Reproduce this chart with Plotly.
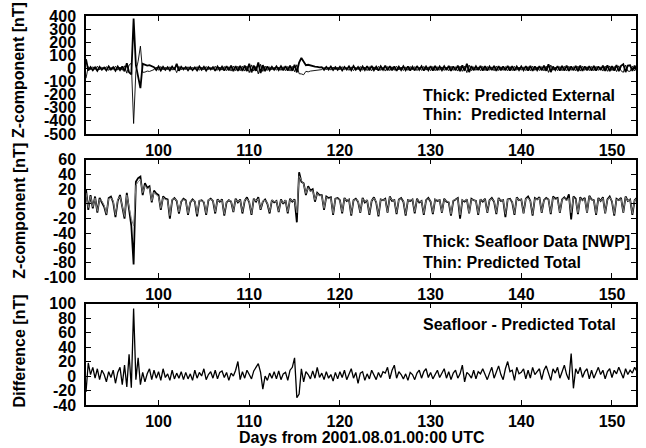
import plotly.graph_objects as go

# ---------------- data (6-hour sampling) ----------------
DAY0 = 92.0
STEP = 0.25

# Panel 1: predicted external (thick) and internal (thin) Z [nT]
EXTERNAL = [
    70, -15, 10, -14,   8, -18, 12, -10,   6, -15, 16, -8,   10, -18, 14, -12,
    15, -22, 40, -30,   -45, 380, 25, -60,   -150, 35, 30, 22,   25, 15, 10, -12,
    15, -16, 12, -10,   10, -14, 14, -10,   35, -18, 12, -8,   10, -14, 10, -12,
    8, -15, 15, -10,   12, -16, 10, -8,   10, -18, 15, -12,   14, -16, 18, -14,
    22, -20, 18, -18,   20, -18, 22, -20,   35, -30, 22, -18,   45, -35, 25, -20,
    16, -14, 12, -10,   15, -12, 16, -14,   18, -16, 22, -18,   28, -30, 45, 80,
    55, 25, 28, 22,   20, 14, 12, 8,   10, -10, 12, -9,   14, -12, 10, -11,
    12, -15, 11, -8,   16, -13, 18, -10,   11, -16, 15, -12,   18, -14, 20, -13,
    13, -17, 16, -10,   22, -15, 18, -14,   15, -18, 13, -12,   17, -13, 16, -16,
    13, -15, 18, -10,   16, -17, 14, -13,   18, -16, 20, -14,   15, -13, 17, -12,
    19, -18, 16, -14,   22, -20, 24, -18,   35, -28, 18, -14,   16, -13, 20, -17,
    18, -16, 15, -13,   20, -18, 17, -14,   16, -15, 19, -16,   18, -17, 15, -12,
    15, -13, 18, -16,   20, -18, 16, -13,   17, -15, 21, -18,   32, -28, 15, -12,
    18, -16, 20, -17,   21, -18, 16, -15,   19, -20, 22, -18,   16, -15, 18, -16,
    20, -17, 16, -13,   22, -19, 24, -20,   18, -16, 26, -21,   20, 32, -28, 22,
    24, -18, 21, -16,
]
INTERNAL = [
    -75, 14, -9, 13,   -7, 17, -11, 9,   -5, 14, -15, 7,   -9, 17, -13, 11,
    -14, 20, -36, 26,   40, -420, -22, 55,   170, -30, -28, -20,   -23, -14, -9, 11,
    -14, 15, -11, 9,   -9, 13, -13, 9,   -32, 16, -11, 7,   -9, 13, -9, 11,
    -7, 14, -14, 9,   -11, 15, -9, 7,   -9, 17, -14, 11,   -13, 15, -17, 13,
    -20, 18, -17, 17,   -18, 17, -20, 18,   -32, 27, -20, 16,   -42, 32, -23, 18,
    -15, 13, -11, 9,   -14, 11, -15, 13,   -17, 15, -20, 16,   -25, 28, -40, -42,
    -48, -22, -26, -20,   -18, -13, -11, -7,   -9, 9, -11, 8,   -13, 11, -9, 10,
    -11, 14, -10, 7,   -15, 12, -17, 9,   -10, 15, -14, 11,   -17, 13, -18, 12,
    -12, 16, -15, 9,   -20, 14, -17, 13,   -14, 17, -12, 11,   -16, 12, -15, 15,
    -12, 14, -17, 9,   -15, 16, -13, 12,   -17, 15, -18, 13,   -14, 12, -16, 11,
    -18, 17, -15, 13,   -20, 18, -22, 17,   -32, 26, -17, 13,   -15, 12, -18, 16,
    -17, 15, -14, 12,   -18, 17, -16, 13,   -15, 14, -18, 15,   -17, 16, -14, 11,
    -14, 12, -17, 15,   -18, 17, -15, 12,   -16, 14, -19, 17,   -30, 26, -14, 11,
    -17, 15, -18, 16,   -19, 17, -15, 14,   -18, 18, -20, 17,   -15, 14, -17, 15,
    -18, 16, -15, 12,   -20, 18, -22, 19,   -17, 15, -24, 20,   -18, -30, 26, -20,
    -22, 17, -19, 15,
]

# Panel 2: seafloor data (thick) and predicted total (thin) Z [nT]
SEAFLOOR = [
    20, -8, 12, -6,   10, -12, 8, 2,   -4, -15, 8, 10,   2, -18, 4, 12,
    -6, -20, 15, -10,   -30, -82, 30, 35,   37, 12, 28, 22,   24, 2, 18, 14,
    12, -8, 10, 7,   6, -20, 5, 8,   4, -13, 3, 7,   5, -15, 2, 6,
    3, -17, 4, 5,   2, -15, 5, 7,   4, -13, 6, 3,   6, -16, 2, 5,
    3, -11, 7, 2,   6, -13, 4, 9,   2, -15, 7, 3,   9, -8, 3, 6,
    0, -13, 5, 2,   4, -11, 6, 0,   5, -13, 7, 3,   6, -25, 43, 30,
    28, 12, 24, 18,   20, 3, 15, 12,   12, -8, 10, 8,   9, -15, 7, 8,
    5, -13, 8, 4,   6, -16, 5, 7,   3, -12, 8, 2,   5, -15, 4, 9,
    2, -17, 6, 5,   7, -12, 10, 4,   5, -14, 6, 8,   3, -16, 5, 4,
    6, -13, 7, 2,   4, -15, 5, 8,   3, -14, 6, 4,   5, -12, 7, 3,
    2, -16, 4, 6,   8, -20, 5, 3,   6, -13, 7, 5,   4, -15, 6, 3,
    7, -12, 5, 8,   3, -14, 8, 4,   5, -18, 6, 7,   2, -15, 9, 5,
    6, -13, 7, 10,   4, -16, 8, 6,   9, -12, 5, 8,   6, -14, 10, 7,
    8, -12, 6, 9,   5, 13, -21, 10,   7, -14, 9, 5,   8, -12, 11, 6,
    5, -15, 8, 4,   9, -13, 6, 10,   3, -16, 7, 5,   8, -12, 10, 4,
    6, -15, 5, 8,
]
PREDICTED = [
    15, -5, 10, -4,   8, -10, 6, 4,   -2, -13, 7, 8,   4, -15, 6, 10,
    -3, -17, 12, -6,   -20, -30, 25, 30,   33, 15, 25, 20,   22, 4, 16, 12,
    10, -6, 9, 6,   5, -16, 6, 7,   5, -11, 4, 6,   4, -13, 3, 5,
    4, -14, 5, 4,   3, -13, 6, 6,   5, -11, 5, 4,   5, -14, 3, 5,
    4, -10, 6, 3,   5, -11, 5, 7,   3, -13, 6, 4,   7, -7, 4, 5,
    1, -11, 5, 3,   4, -10, 5, 1,   5, -11, 6, 4,   5, -12, 38, 32,
    27, 14, 22, 17,   18, 5, 14, 11,   11, -6, 9, 7,   8, -13, 7, 7,
    5, -11, 7, 5,   6, -14, 5, 6,   4, -11, 7, 3,   5, -13, 5, 8,
    3, -15, 6, 5,   6, -11, 9, 5,   5, -12, 6, 7,   4, -14, 5, 5,
    6, -11, 6, 3,   4, -13, 5, 7,   4, -12, 6, 5,   5, -11, 6, 4,
    3, -14, 5, 6,   7, -15, 5, 4,   6, -12, 6, 5,   4, -13, 6, 4,
    6, -11, 5, 7,   4, -12, 7, 5,   5, -14, 6, 6,   3, -13, 8, 5,
    6, -12, 7, 8,   4, -14, 7, 6,   8, -11, 5, 7,   6, -12, 9, 6,
    7, -11, 6, 8,   5, 8, -12, 9,   6, -12, 8, 5,   7, -11, 10, 6,
    5, -13, 7, 4,   8, -12, 6, 9,   4, -14, 6, 5,   7, -11, 9, 4,
    6, -13, 5, 7,
]

# Panel 3: seafloor - predicted total [nT]
DIFFERENCE = [
    -22, 18, 2, 12,   -3, 10, -5, 8,   2, -8, 6, -2,   8, -10, 5, 12,
    -12, 15, -15, 30,   -16, 93, -5, 25,   -12, 5, -8, 3,   10, -5, 8, -3,
    6, -6, 10, -2,   3, -6, 8, -4,   4, -3, 6, -5,   5, -4, 3, -6,
    8, -3, 5, 0,   10, -5, 2, 6,   -3, 8, -4, 5,   7, -2, 5, -6,
    4, 0, 8, 20,   -5, 6, -3, 8,   2, -4, 7, 12,   17, 5, -18, 0,
    -6, 4, -3, 6,   -4, 7, -5, 3,   5, -6, 8, 12,   25, -30, -25, 10,
    -8, 6, 2, -4,   7, -3, 12, -2,   4, -5, 6, -3,   2, -7, 5, -4,
    6, -2, 8, -5,   3, 10, -3, 5,   -10, 4, 6, -6,   3, -4, 8, 2,
    -5, 5, -2, 6,   4, 12, -4, 8,   15, -3, 6, 2,   -4, 3, -6, 5,
    2, -5, 4, 8,   -3, 6, 10, -2,   5, -4, 3, 8,   -2, 5, 10, -3,
    6, -5, 4, 8,   -3, 3, 15, -8,   5, 2, -3, 8,   -4, 6, 3, 10,
    2, -5, 4, 12,   -3, 6, 14, 2,   -5, 10, 20, 6,   8, -6, 12, 3,
    5, 10, -4, 8,   -3, 12, 2, 6,   10, -5, 8, 14,   3, -6, 10, 4,
    12, -3, 6, 15,   2, -5, 31, -17,   10, 3, 12, -2,   6, 10, -4, 8,
    -3, 5, 12, 2,   8, -4, 6, 10,   -2, 8, 3, 12,   5, -3, 10, 2,
    8, 4, 12, 6,
]

X_RANGE = [92.0, 152.65]
X_TICKS = [100, 110, 120, 130, 140, 150]
X_TICK_LABELS = ["100", "110", "120", "130", "140", "150"]

Y1_TICKS = [-500, -400, -300, -200, -100, 0, 100, 200, 300, 400]
Y1_TICK_LABELS = ["-500", "-400", "-300", "-200", "-100", "0", "100", "200", "300", "400"]
Y2_TICKS = [-100, -80, -60, -40, -20, 0, 20, 40, 60]
Y2_TICK_LABELS = ["-100", "-80", "-60", "-40", "-20", "0", "20", "40", "60"]
Y3_TICKS = [-40, -20, 0, 20, 40, 60, 80, 100]
Y3_TICK_LABELS = ["-40", "-20", "0", "20", "40", "60", "80", "100"]

# ---------------- figure ----------------
n = len(SEAFLOOR)
assert all(len(a) == n for a in (EXTERNAL, INTERNAL, PREDICTED, DIFFERENCE))
days = [DAY0 + STEP * i for i in range(n)]

FONT = "Liberation Sans, Arial, Helvetica, sans-serif"

fig = go.Figure()
fig.add_trace(go.Scatter(x=days, y=INTERNAL, mode="lines", line=dict(color="black", width=0.9),
                         xaxis="x", yaxis="y", name="Predicted Internal"))
fig.add_trace(go.Scatter(x=days, y=EXTERNAL, mode="lines", line=dict(color="black", width=1.8),
                         xaxis="x", yaxis="y", name="Predicted External"))
fig.add_trace(go.Scatter(x=days, y=SEAFLOOR, mode="lines", line=dict(color="black", width=1.8),
                         xaxis="x2", yaxis="y2", name="Seafloor Data [NWP]"))
fig.add_trace(go.Scatter(x=days, y=PREDICTED, mode="lines", line=dict(color="#808080", width=1),
                         xaxis="x2", yaxis="y2", name="Predicted Total"))
fig.add_trace(go.Scatter(x=days, y=DIFFERENCE, mode="lines", line=dict(color="black", width=1.3),
                         xaxis="x3", yaxis="y3", name="Seafloor - Predicted Total"))

L, R, T, B = 86, 8, 15, 43
W, H = 646, 448
PH = H - T - B


def ydom(top_px, bot_px):
    return [(H - B - bot_px) / PH, (H - B - top_px) / PH]


axis_common = dict(showline=True, linecolor="black", linewidth=1.5, mirror="ticks",
                   ticks="inside", ticklen=5, tickwidth=1.2, tickcolor="black",
                   showgrid=False, zeroline=False,
                   tickfont=dict(family=FONT, size=16, color="black", weight="bold"))

xa = dict(range=X_RANGE, tickvals=X_TICKS, ticktext=X_TICK_LABELS, ticklabelstandoff=1, **axis_common)

fig.update_layout(
    width=W, height=H,
    margin=dict(l=L, r=R, t=T, b=B),
    paper_bgcolor="white", plot_bgcolor="white",
    showlegend=False,
    font=dict(family=FONT, size=16, color="black", weight="bold"),
    xaxis=dict(anchor="y", **xa),
    xaxis2=dict(anchor="y2", **xa),
    xaxis3=dict(anchor="y3", **xa),
    yaxis=dict(anchor="x", domain=ydom(15, 133.3), range=[-500, 400],
               tickvals=Y1_TICKS, ticktext=Y1_TICK_LABELS, ticklabelstandoff=5, **axis_common),
    yaxis2=dict(anchor="x2", domain=ydom(159, 277.3), range=[-100, 60],
                tickvals=Y2_TICKS, ticktext=Y2_TICK_LABELS, ticklabelstandoff=5, **axis_common),
    yaxis3=dict(anchor="x3", domain=ydom(303.3, 405), range=[-40, 100],
                tickvals=Y3_TICKS, ticktext=Y3_TICK_LABELS, ticklabelstandoff=5, **axis_common),
)


def px_x(px):
    return (px - L) / (W - L - R)


def px_y(px):
    return (H - B - px) / PH


ann_font = dict(family=FONT, size=16, color="black", weight="bold")
texts = [
    ("Thick: Predicted External", 422.7, 95),
    ("Thin:\u00a0 Predicted Internal", 422.7, 113.3),
    ("Thick: Seafloor Data [NWP]", 422.7, 240.7),
    ("Thin: Predicted Total", 422.7, 262.3),
    ("Seafloor - Predicted Total", 422.0, 324.3),
]
for txt, x, y in texts:
    fig.add_annotation(text=txt, xref="paper", yref="paper", x=px_x(x), y=px_y(y),
                       xanchor="left", yanchor="middle", showarrow=False, font=ann_font)

ytitles = [("Z-component [nT]", 69), ("Z-component [nT]", 210), ("Difference [nT]", 351)]
for txt, y in ytitles:
    fig.add_annotation(text=txt, xref="paper", yref="paper", x=px_x(19), y=px_y(y),
                       xanchor="center", yanchor="middle", textangle=-90, showarrow=False,
                       font=ann_font)

fig.add_annotation(text="Days from 2001.08.01.00:00 UTC", xref="paper", yref="paper",
                   x=px_x(363), y=px_y(438), xanchor="center", yanchor="middle",
                   showarrow=False, font=ann_font)

fig.write_html("out.html", config={"displayModeBar": False},
               post_script="document.body.style.margin='0';")
